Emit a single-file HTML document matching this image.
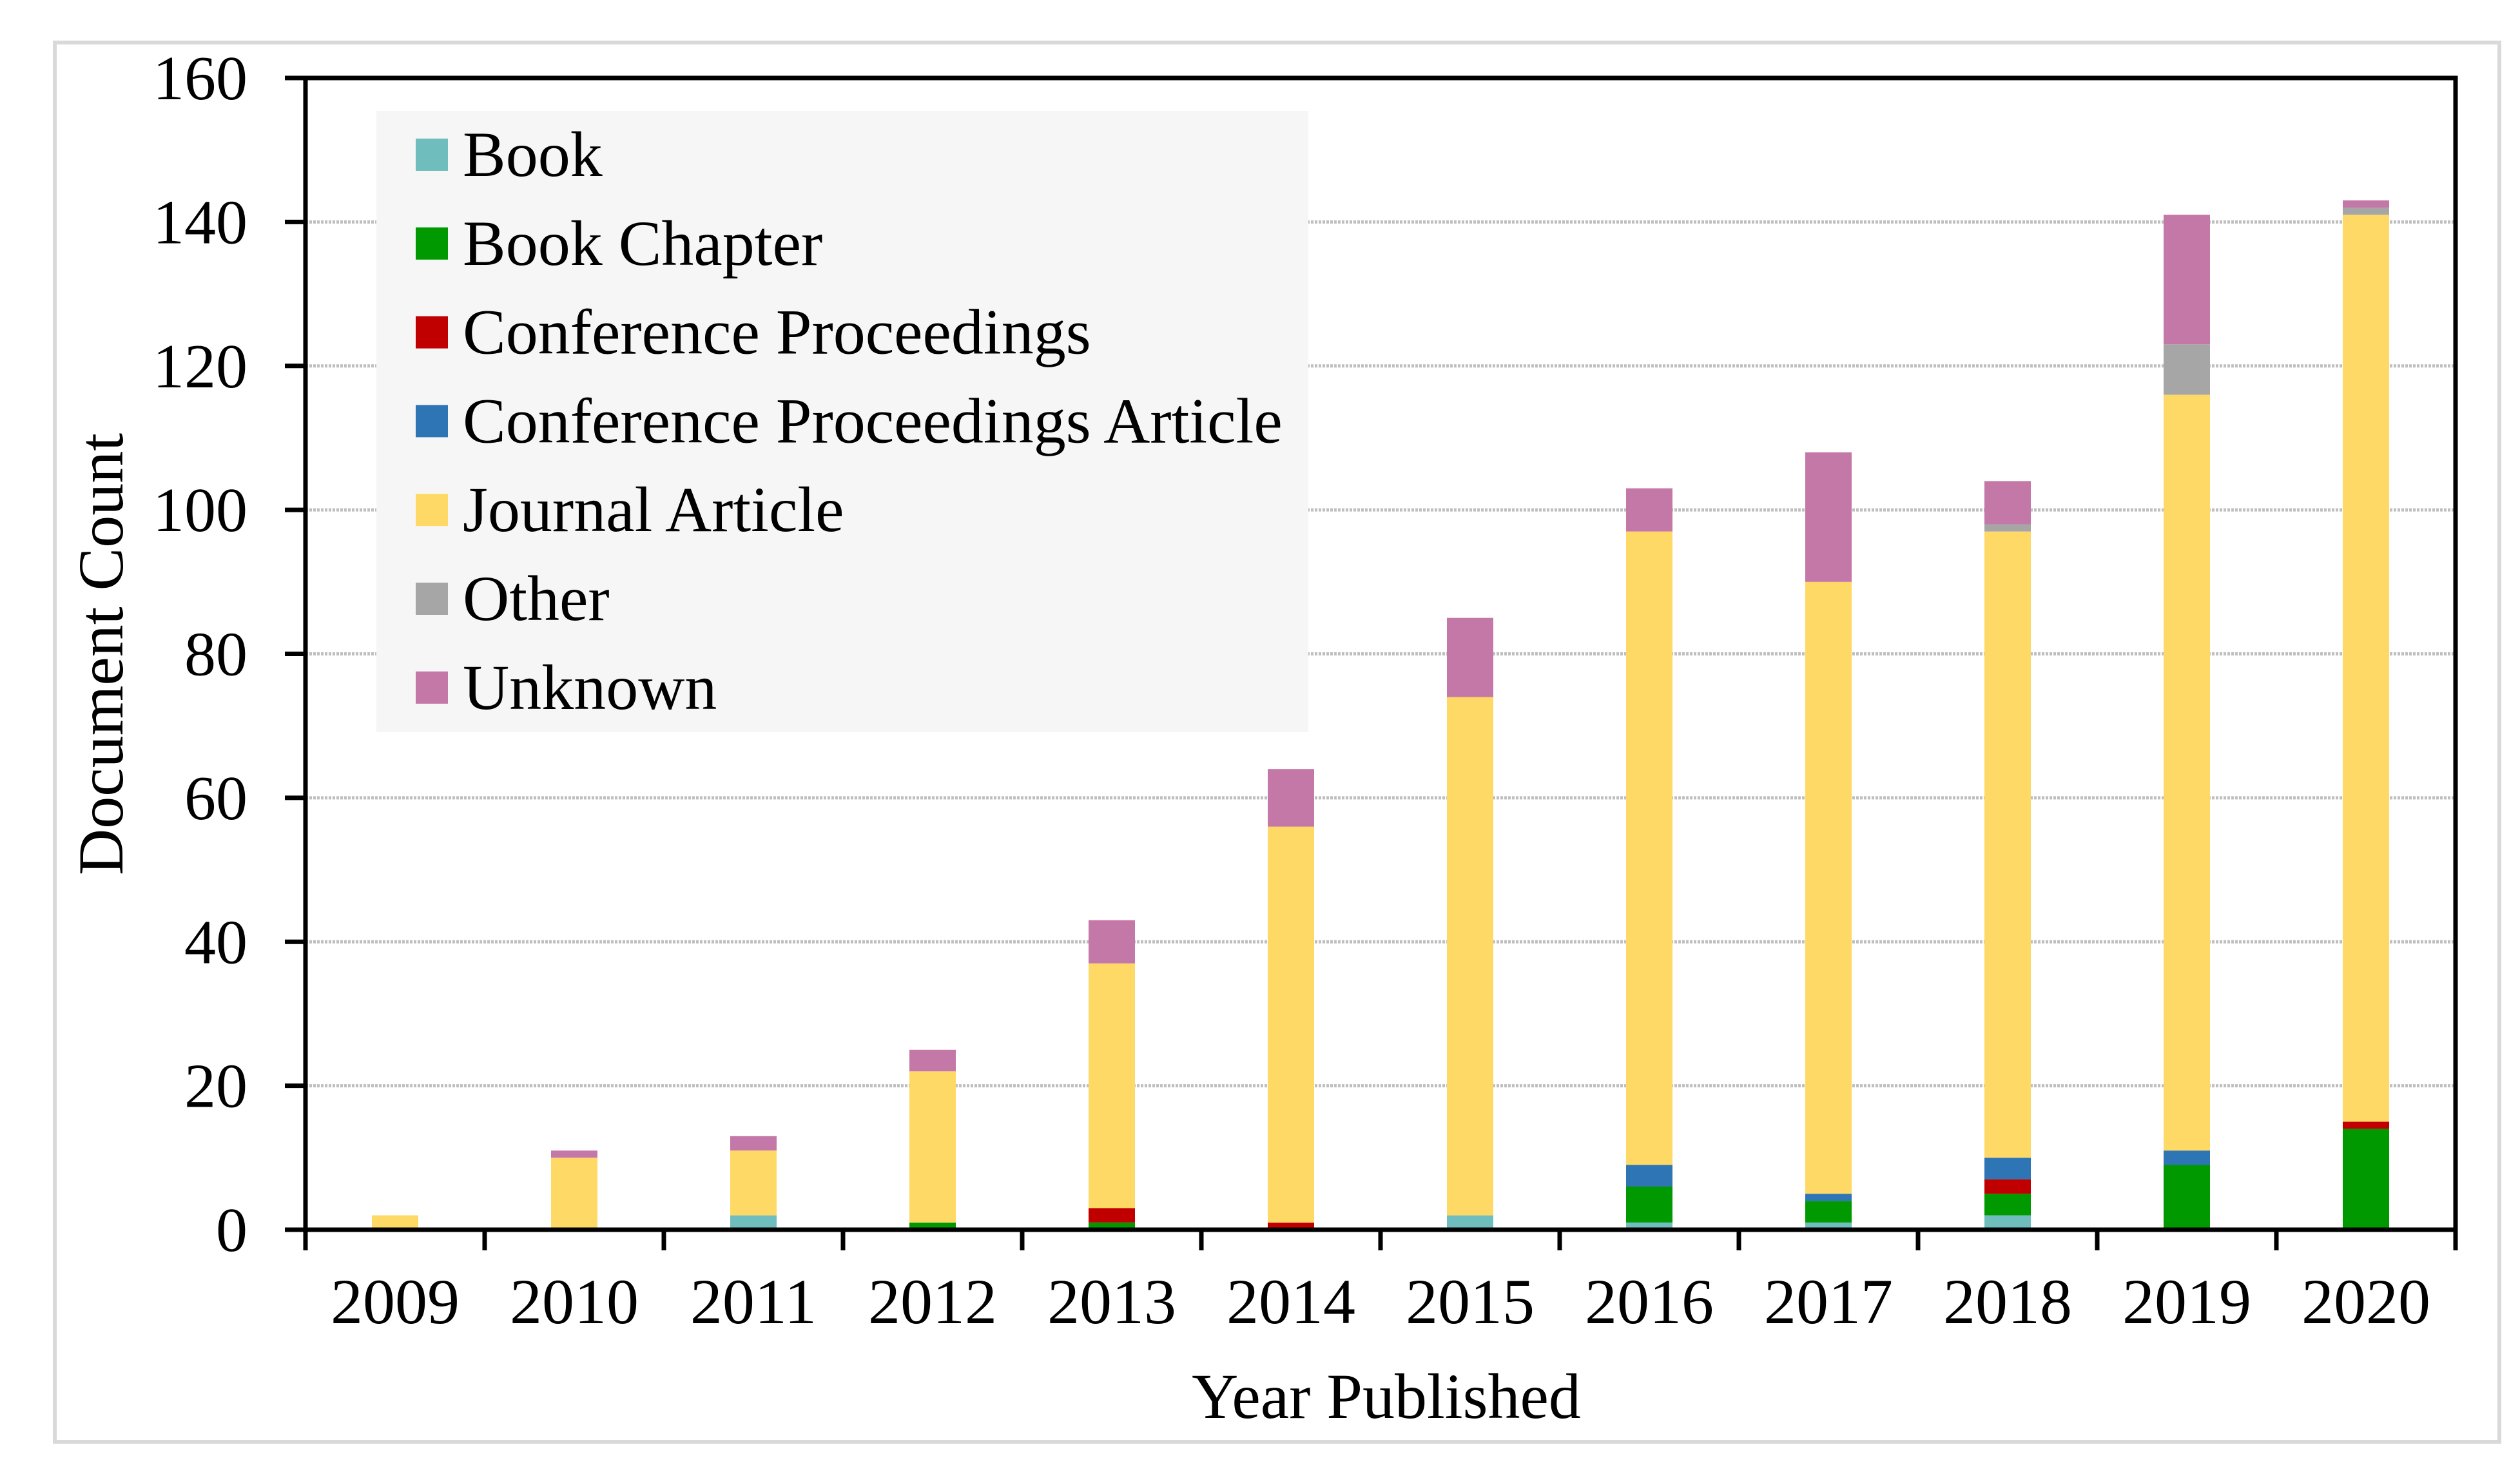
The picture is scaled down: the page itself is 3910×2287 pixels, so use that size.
<!DOCTYPE html>
<html><head><meta charset="utf-8"><style>
html,body{margin:0;padding:0;background:#fff;}
svg{display:block;font-family:"Liberation Serif",serif;}
</style></head><body>
<svg id="chart" width="3910" height="2287" viewBox="0 0 3910 2287" xmlns="http://www.w3.org/2000/svg">
<rect x="85" y="66" width="3793" height="2171" fill="#fff" stroke="#d9d9d9" stroke-width="6"/>
<g id="grid"></g>
<g id="bars"></g>
<g id="axes"></g>
<g id="legend"></g>
<text x="2151" y="2200" font-size="100" text-anchor="middle">Year Published</text>
<text transform="translate(190,1015) rotate(-90)" font-size="100" text-anchor="middle">Document Count</text>
</svg>
<script>
const years = ["2009","2010","2011","2012","2013","2014","2015","2016","2017","2018","2019","2020"];
const seriesNames = ["Book","Book Chapter","Conference Proceedings","Conference Proceedings Article","Journal Article","Other","Unknown"];
const seriesColors = ["#70bdbe","#009900","#c00000","#2e75b6","#ffd966","#a6a6a6","#c478a8"];
const book = [0,0,2,0,0,0,2,1,1,2,0,0];
const bookChapter = [0,0,0,1,1,0,0,5,3,3,9,14];
const confProc = [0,0,0,0,2,1,0,0,0,2,0,1];
const confProcArticle = [0,0,0,0,0,0,0,3,1,3,2,0];
const journal = [2,10,9,21,34,55,72,88,85,87,105,126];
const other = [0,0,0,0,0,0,0,0,0,1,7,1];
const unknown = [0,1,2,3,6,8,11,6,18,6,18,1];
const yTicks = [0,20,40,60,80,100,120,140,160];

const series = [book,bookChapter,confProc,confProcArticle,journal,other,unknown];
const NS = "http://www.w3.org/2000/svg";
const L = 474, R = 3810, T = 121, B = 1908, yMax = 160;
const band = (R - L) / years.length, barW = 72;
const y = v => B - (v / yMax) * (B - T);
const xc = i => L + band * (i + 0.5);
function mk(tag, attrs, parent) {
  const e = document.createElementNS(NS, tag);
  for (const k in attrs) e.setAttribute(k, attrs[k]);
  parent.appendChild(e);
  return e;
}
const grid = document.getElementById('grid'), bars = document.getElementById('bars'), axes = document.getElementById('axes'), legend = document.getElementById('legend');
yTicks.forEach(t => {
  if (t > 0 && t < yMax) {
    const g = mk('line', {x1: L, x2: R, y1: y(t), y2: y(t), stroke: '#bfbfbf', 'stroke-width': 5, 'stroke-dasharray': '4 2'}, grid);
    
    
  }
  const tk = mk('line', {x1: L - 32, x2: L, y1: y(t), y2: y(t), stroke: '#000', 'stroke-width': 7}, axes);
  
  
  const lb = mk('text', {x: 384, y: y(t) + 33, 'font-size': 98, 'text-anchor': 'end'}, axes);
  lb.textContent = t;
  
  
});
years.forEach((yr, i) => {
  let acc = 0;
  series.forEach((s, si) => {
    const v = s[i];
    if (v > 0) {
      const r = mk('rect', {x: xc(i) - barW / 2, y: y(acc + v), width: barW, height: y(acc) - y(acc + v), fill: seriesColors[si]}, bars);
      
      
    }
    acc += v;
  });
  const lb = mk('text', {x: xc(i), y: 2053, 'font-size': 100, 'text-anchor': 'middle'}, axes);
  lb.textContent = yr;
  
  
});
for (let i = 0; i <= years.length; i++) {
  const tk = mk('line', {x1: L + band * i, x2: L + band * i, y1: B, y2: B + 32, stroke: '#000', 'stroke-width': 7}, axes);
  
  
}
const box = mk('rect', {x: L, y: T, width: R - L, height: B - T, fill: 'none', stroke: '#000', 'stroke-width': 7}, axes);


const lbg = mk('rect', {x: 584, y: 172, width: 1446, height: 964, fill: '#f6f6f6'}, legend);


seriesNames.forEach((n, i) => {
  const cy = 240 + i * 137.8;
  const sw = mk('rect', {x: 645, y: cy - 25, width: 50, height: 50, fill: seriesColors[i]}, legend);
  
  
  const t = mk('text', {x: 718, y: cy + 33, 'font-size': 100}, legend);
  t.textContent = n;
  
  
});
</script>
</body></html>
